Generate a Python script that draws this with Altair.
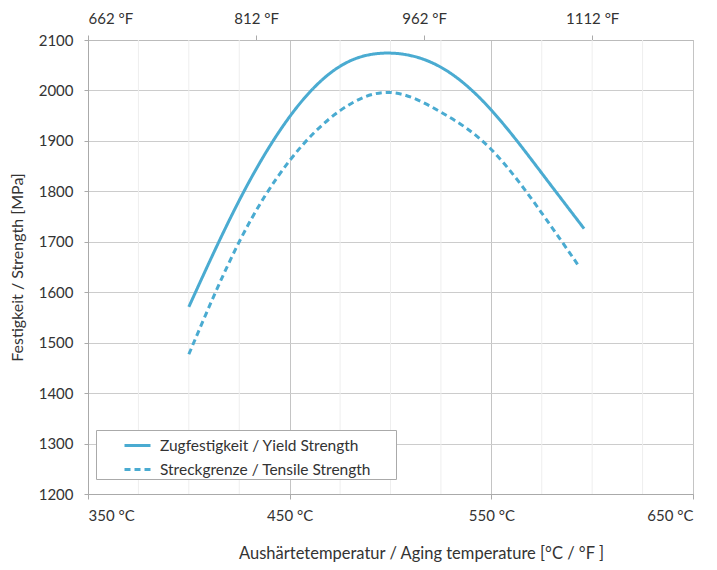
import altair as alt
import pandas as pd

# ---- data ----
temp_yield = [400, 425, 450, 475, 500, 525, 550, 575, 596]
yield_vals = [1571, 1782, 1948, 2048, 2074, 2046, 1961, 1836, 1726]
temp_tensile = [400, 425, 450, 475, 500, 525, 550, 575, 593]
tensile_vals = [1477, 1700, 1861, 1960, 1996, 1957, 1883, 1757, 1654]

series_names = ["Zugfestigkeit / Yield Strength", "Streckgrenze / Tensile Strength"]
bottom_ticks = [350, 450, 550, 650]
minor_grid = [375, 400, 425, 475, 500, 525, 575, 600, 625]
top_ticks_f = [662, 812, 962, 1112]
y_ticks = [1200, 1300, 1400, 1500, 1600, 1700, 1800, 1900, 2000, 2100]

x_domain_c = [350, 650]
x_domain_f = [662, 1202]
y_domain = [1200, 2100]

rows = []
for t, v in zip(temp_yield, yield_vals):
    rows.append({"t": t, "v": v, "s": series_names[0]})
for t, v in zip(temp_tensile, tensile_vals):
    rows.append({"t": t, "v": v, "s": series_names[1]})
df = pd.DataFrame(rows)
df["f"] = df["t"] * 9 / 5 + 32

FONT = "Lato"
TXT = "#333333"
LINE = "#4aabd1"

xscale = alt.Scale(domain=x_domain_c, nice=False, zero=False)
yscale = alt.Scale(domain=y_domain, nice=False, zero=False)

legend_cfg = dict(
    title=" ",
    titleOrient="right",
    titlePadding=24,
    titleFontSize=15,
    orient="none",
    legendX=8,
    legendY=390,
    symbolType="stroke",
    symbolSize=676,
    symbolStrokeWidth=3,
    symbolOffset=26,
    labelOffset=8,
    labelFont=FONT,
    labelFontSize=15.5,
    labelColor=TXT,
    labelLimit=400,
    rowPadding=1,
    padding=1,
    strokeColor="#aaaaaa",
    fillColor="white",
)

minor = alt.Chart(pd.DataFrame({"t": minor_grid})).mark_rule(
    color="#eeeeee", strokeWidth=1
).encode(x=alt.X("t:Q", scale=xscale, axis=None))

lines = alt.Chart(df).mark_line(strokeWidth=3, interpolate="natural").encode(
    x=alt.X(
        "t:Q",
        scale=xscale,
        axis=alt.Axis(
            values=bottom_ticks,
            labelExpr="datum.value + ' °C'",
            grid=True,
            gridColor="#c4c4c4",
            tickSize=5,
            tickColor="#aaaaaa",
            domainColor="#aaaaaa",
            labelPadding=9,
            labelFontSize=15,
            labelColor=TXT,
            labelFont=FONT,
            title="Aushärtetemperatur / Aging temperature [°C / °F ]",
            titleFont=FONT,
            titleFontSize=16.5,
            titleFontWeight="normal",
            titleColor=TXT,
            titleX=333,
            titleY=59,
            titleAlign="center",
            titleBaseline="middle",
        ),
    ),
    y=alt.Y(
        "v:Q",
        scale=yscale,
        axis=alt.Axis(
            values=y_ticks,
            format="d",
            grid=True,
            gridColor="#cccccc",
            tickSize=4,
            tickColor="#aaaaaa",
            domainColor="#aaaaaa",
            labelPadding=11,
            labelFontSize=15,
            labelColor=TXT,
            labelFont=FONT,
            title="Festigkeit / Strength [MPa]",
            titleFont=FONT,
            titleFontSize=16,
            titleFontWeight="normal",
            titleColor=TXT,
            titleX=-71,
            titleY=227,
            titleAngle=-90,
            titleAlign="center",
            titleBaseline="middle",
        ),
    ),
    color=alt.Color(
        "s:N",
        scale=alt.Scale(domain=series_names, range=[LINE, LINE]),
        legend=alt.Legend(**legend_cfg),
    ),
    strokeDash=alt.StrokeDash(
        "s:N",
        scale=alt.Scale(domain=series_names, range=[[1, 0], [6, 4]]),
        legend=alt.Legend(**legend_cfg),
    ),
)

top = alt.Chart(df).mark_point(opacity=0).encode(
    x=alt.X(
        "f:Q",
        scale=alt.Scale(domain=x_domain_f, nice=False, zero=False),
        axis=alt.Axis(
            orient="top",
            values=top_ticks_f,
            labelExpr="datum.value + ' °F'",
            grid=False,
            tickSize=5,
            tickColor="#aaaaaa",
            domainColor="#bbbbbb",
            labelPadding=9,
            labelFontSize=15,
            labelColor=TXT,
            labelFont=FONT,
            title=None,
        ),
    )
)

chart = (
    alt.layer(minor, lines, top)
    .resolve_scale(x="independent")
    .properties(
        width=605,
        height=454,
        padding={"left": 80, "top": 32, "right": 16, "bottom": 69},
        autosize=alt.AutoSizeParams(type="none"),
    )
    .configure_view(stroke="#bbbbbb", strokeWidth=1)
)

chart.save("out.html", embed_options={"renderer": "svg", "actions": False})
